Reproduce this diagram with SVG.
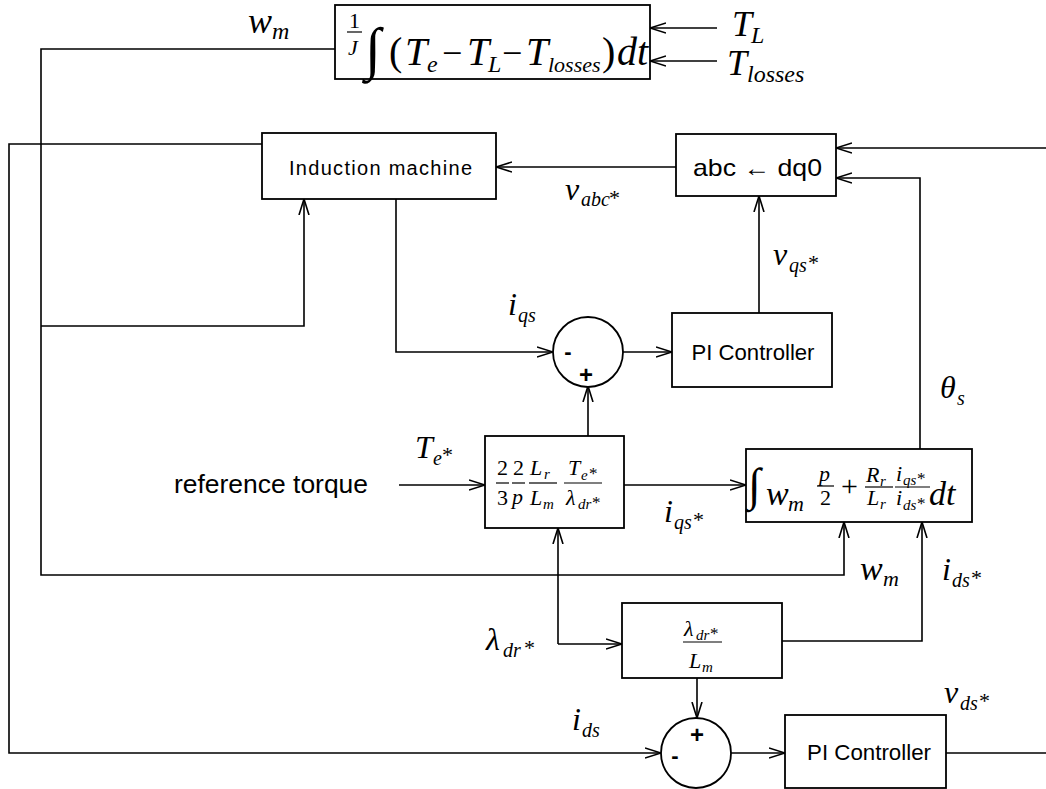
<svg xmlns="http://www.w3.org/2000/svg" width="1046" height="789" viewBox="0 0 1046 789">
<defs>
<marker id="ar" viewBox="0 0 16 12" refX="16" refY="6" markerWidth="16" markerHeight="12" markerUnits="userSpaceOnUse" orient="auto">
<path d="M0,1 L16,6 L0,11" fill="none" stroke="#000" stroke-width="1.6"/>
</marker>
<style>
.box{fill:#fff;stroke:#000;stroke-width:1.8}
.ln{fill:none;stroke:#000;stroke-width:1.6}
.fb{stroke:#000;stroke-width:1.2}
.m{font-family:"Liberation Serif","DejaVu Serif",serif;font-style:italic;fill:#000}
.u{font-family:"Liberation Serif","DejaVu Serif",serif;fill:#000}
.s{font-family:"Liberation Sans",Arial,sans-serif;fill:#000}
</style>
</defs>
<rect width="1046" height="789" fill="#fff"/>

<g id="connectors">
<path class="ln" d="M335,49 H41 V575 H844 V522" marker-end="url(#ar)"/>
<path class="ln" d="M41,326 H304 V199" marker-end="url(#ar)"/>
<path class="ln" d="M262,144 H9 V753 H661" marker-end="url(#ar)"/>
<path class="ln" d="M396,199 V352 H553" marker-end="url(#ar)"/>
<path class="ln" d="M623,352 H672" marker-end="url(#ar)"/>
<path class="ln" d="M759,313 V196" marker-end="url(#ar)"/>
<path class="ln" d="M676,167 H496" marker-end="url(#ar)"/>
<path class="ln" d="M1046,148 H836" marker-end="url(#ar)"/>
<path class="ln" d="M920,449 V178 H836" marker-end="url(#ar)"/>
<path class="ln" d="M717,28 H650" marker-end="url(#ar)"/>
<path class="ln" d="M717,61 H650" marker-end="url(#ar)"/>
<path class="ln" d="M399,485 H485" marker-end="url(#ar)"/>
<path class="ln" d="M588,436 V386" marker-end="url(#ar)"/>
<path class="ln" d="M624,485 H746" marker-end="url(#ar)"/>
<path class="ln" d="M558,644 V528" marker-end="url(#ar)"/>
<path class="ln" d="M558,644 H622" marker-end="url(#ar)"/>
<path class="ln" d="M782,641 H922 V522" marker-end="url(#ar)"/>
<path class="ln" d="M697,678 V718" marker-end="url(#ar)"/>
<path class="ln" d="M731,753 H785" marker-end="url(#ar)"/>
<path class="ln" d="M946,753 H1046"/>
</g>

<g id="mech">
<rect class="box" x="335" y="5" width="315" height="74"/>
<text class="u" x="349" y="28" font-size="22">1</text>
<line class="fb" x1="347" y1="32" x2="362" y2="32"/>
<text class="m" x="348" y="55" font-size="22">J</text>
<text class="m" x="365" y="68" font-size="58">∫</text>
<text class="u" x="389" y="65" font-size="40">(</text>
<text class="m" x="405" y="65" font-size="40">T</text>
<text class="m" x="427" y="72" font-size="24">e</text>
<text class="u" x="442" y="65" font-size="36">−</text>
<text class="m" x="467" y="65" font-size="40">T</text>
<text class="m" x="488" y="72" font-size="24">L</text>
<text class="u" x="502" y="65" font-size="36">−</text>
<text class="m" x="526" y="65" font-size="40">T</text>
<text class="m" x="548" y="72" font-size="22">losses</text>
<text class="u" x="602" y="65" font-size="40">)</text>
<text class="m" x="617" y="65" font-size="40">dt</text>
</g>

<g id="labels-top">
<text class="m" x="248" y="33" font-size="36">w</text>
<text class="m" x="272" y="39" font-size="24">m</text>
<text class="m" x="732" y="36" font-size="36">T</text>
<text class="m" x="751" y="43" font-size="24">L</text>
<text class="m" x="727" y="75" font-size="36">T</text>
<text class="m" x="747" y="82" font-size="24">losses</text>
</g>

<g id="induction-machine">
<rect class="box" x="262" y="133" width="234" height="66"/>
<text class="s" x="289" y="175" font-size="20" textLength="183" lengthAdjust="spacing">Induction machine</text>
</g>

<g id="abc-dq0">
<rect class="box" x="676" y="134" width="160" height="62"/>
<text class="s" x="693" y="176" font-size="24" textLength="129" lengthAdjust="spacingAndGlyphs">abc ← dq0</text>
</g>

<g id="sum-q">
<circle class="box" cx="588" cy="352" r="35"/>
<text class="s" x="568" y="359" font-size="22" font-weight="bold" text-anchor="middle">-</text>
<text class="s" x="586" y="383" font-size="24" font-weight="bold" text-anchor="middle">+</text>
</g>

<g id="pi-q">
<rect class="box" x="672" y="313" width="160" height="74"/>
<text class="s" x="753" y="360" font-size="22" text-anchor="middle" textLength="123" lengthAdjust="spacingAndGlyphs">PI Controller</text>
</g>

<g id="torque-calc">
<rect class="box" x="485" y="436" width="139" height="92"/>
<text class="u" x="497" y="475" font-size="22">2</text>
<line class="fb" x1="496" y1="483" x2="509" y2="483"/>
<text class="u" x="497" y="505" font-size="22">3</text>
<text class="u" x="513" y="475" font-size="22">2</text>
<line class="fb" x1="512" y1="483" x2="525" y2="483"/>
<text class="m" x="512" y="504" font-size="22">p</text>
<text class="m" x="530" y="475" font-size="22">L</text>
<text class="m" x="544" y="479" font-size="15">r</text>
<line class="fb" x1="529" y1="483" x2="557" y2="483"/>
<text class="m" x="530" y="505" font-size="22">L</text>
<text class="m" x="543" y="509" font-size="15">m</text>
<text class="m" x="568" y="475" font-size="22">T</text>
<text class="m" x="581" y="480" font-size="15">e</text>
<text class="u" x="589" y="479" font-size="17">*</text>
<line class="fb" x1="564" y1="483" x2="602" y2="483"/>
<text class="m" x="566" y="505" font-size="22">λ</text>
<text class="m" x="578" y="509" font-size="15">dr</text>
<text class="u" x="592" y="508" font-size="17">*</text>
</g>

<g id="theta-calc">
<rect class="box" x="746" y="449" width="226" height="73"/>
<text class="m" x="748" y="500" font-size="46">∫</text>
<text class="m" x="766" y="505" font-size="34">w</text>
<text class="m" x="788" y="511" font-size="22">m</text>
<text class="m" x="819" y="481" font-size="22">p</text>
<line class="fb" x1="817" y1="486" x2="834" y2="486"/>
<text class="u" x="820" y="505" font-size="22">2</text>
<text class="u" x="841" y="496" font-size="30">+</text>
<text class="m" x="866" y="482" font-size="22">R</text>
<text class="m" x="880" y="486" font-size="15">r</text>
<line class="fb" x1="865" y1="487" x2="893" y2="487"/>
<text class="m" x="867" y="505" font-size="22">L</text>
<text class="m" x="880" y="509" font-size="15">r</text>
<text class="m" x="896" y="481" font-size="22">i</text>
<text class="m" x="903" y="485" font-size="15">qs</text>
<text class="u" x="917" y="484" font-size="17">*</text>
<line class="fb" x1="895" y1="487" x2="930" y2="487"/>
<text class="m" x="896" y="505" font-size="22">i</text>
<text class="m" x="903" y="510" font-size="15">ds</text>
<text class="u" x="917" y="509" font-size="17">*</text>
<text class="m" x="929" y="505" font-size="34">dt</text>
</g>

<g id="flux-calc">
<rect class="box" x="622" y="603" width="160" height="75"/>
<text class="m" x="684" y="636" font-size="22">λ</text>
<text class="m" x="696" y="640" font-size="15">dr</text>
<text class="u" x="710" y="639" font-size="17">*</text>
<line class="fb" x1="683" y1="642" x2="722" y2="642"/>
<text class="m" x="689" y="668" font-size="22">L</text>
<text class="m" x="702" y="672" font-size="15">m</text>
</g>

<g id="sum-d">
<circle class="box" cx="696" cy="753" r="35"/>
<text class="s" x="697" y="743" font-size="24" font-weight="bold" text-anchor="middle">+</text>
<text class="s" x="675" y="763" font-size="22" font-weight="bold" text-anchor="middle">-</text>
</g>

<g id="pi-d">
<rect class="box" x="785" y="715" width="161" height="73"/>
<text class="s" x="869" y="760" font-size="22" text-anchor="middle" textLength="124" lengthAdjust="spacingAndGlyphs">PI Controller</text>
</g>

<g id="labels">
<text class="m" x="565" y="200" font-size="32">v</text>
<text class="m" x="581" y="206" font-size="20">abc</text>
<text class="u" x="609" y="205" font-size="22">*</text>
<text class="m" x="773" y="265" font-size="32">v</text>
<text class="m" x="789" y="272" font-size="20">qs</text>
<text class="u" x="808" y="270" font-size="22">*</text>
<text class="m" x="508" y="315" font-size="32">i</text>
<text class="m" x="518" y="322" font-size="20">qs</text>
<text class="m" x="940" y="398" font-size="32">θ</text>
<text class="m" x="957" y="405" font-size="20">s</text>
<text class="s" x="174" y="493" font-size="25" textLength="194" lengthAdjust="spacingAndGlyphs">reference torque</text>
<text class="m" x="415" y="458" font-size="32">T</text>
<text class="m" x="433" y="465" font-size="20">e</text>
<text class="u" x="442" y="462" font-size="22">*</text>
<text class="m" x="664" y="522" font-size="32">i</text>
<text class="m" x="674" y="529" font-size="20">qs</text>
<text class="u" x="693" y="527" font-size="22">*</text>
<text class="m" x="860" y="580" font-size="34">w</text>
<text class="m" x="883" y="586" font-size="22">m</text>
<text class="m" x="942" y="580" font-size="32">i</text>
<text class="m" x="952" y="587" font-size="20">ds</text>
<text class="u" x="971" y="585" font-size="22">*</text>
<text class="m" x="486" y="650" font-size="32">λ</text>
<text class="m" x="503" y="657" font-size="20">dr</text>
<text class="u" x="524" y="655" font-size="22">*</text>
<text class="m" x="572" y="730" font-size="32">i</text>
<text class="m" x="582" y="737" font-size="20">ds</text>
<text class="m" x="944" y="703" font-size="32">v</text>
<text class="m" x="960" y="710" font-size="20">ds</text>
<text class="u" x="979" y="708" font-size="22">*</text>
</g>
</svg>
